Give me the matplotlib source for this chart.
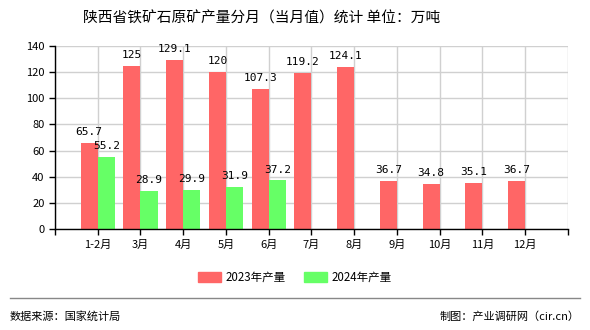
import numpy as np
import matplotlib.pyplot as plt
from matplotlib.patches import Patch
from matplotlib.lines import Line2D

plt.rcParams['font.family'] = ['Noto Sans CJK SC', 'DejaVu Sans']

# === Data ===
months = ["1-2月", "3月", "4月", "5月", "6月", "7月", "8月", "9月", "10月", "11月", "12月"]
output_2023 = [65.7, 125, 129.1, 120, 107.3, 119.2, 124.1, 36.7, 34.8, 35.1, 36.7]
output_2024 = [55.2, 28.9, 29.9, 31.9, 37.2]

RED = '#ff6666'
GREEN = '#66ff66'
BAR_W = 0.4

fig = plt.figure(figsize=(5.9, 3.3), dpi=100)
ax = fig.add_axes([0.0932, 0.306, 0.8695, 0.5546])

x = np.arange(len(months))
x24 = np.arange(len(output_2024))
ax.bar(x - BAR_W / 2, output_2023, BAR_W, color=RED, zorder=2)
ax.bar(x24 + BAR_W / 2, output_2024, BAR_W, color=GREEN, zorder=2)

def fmt(v):
    return f"{v:g}"

for xi, v in zip(x, output_2023):
    ax.text(xi - BAR_W / 2, v + 4.5, fmt(v), ha='center', va='bottom',
            fontsize=8, family='DejaVu Sans Mono')
for xi, v in zip(x24, output_2024):
    ax.text(xi + BAR_W / 2, v + 4.5, fmt(v), ha='center', va='bottom',
            fontsize=8, family='DejaVu Sans Mono')

ax.set_xlim(-1, len(months))
ax.set_ylim(0, 140)
ax.set_yticks(range(0, 141, 20))
ax.set_xticks(range(-1, len(months) + 1))
ax.set_xticklabels([''] + months + [''])
ax.tick_params(axis='both', labelsize=8, length=4, width=1, colors='black')
ax.grid(True, color='#d0d0d0', linewidth=1, zorder=0)
ax.set_axisbelow(True)
for s in ['top', 'right']:
    ax.spines[s].set_visible(False)
ax.spines['left'].set_linewidth(1)
ax.spines['bottom'].set_linewidth(1)

fig.text(0.443, 0.945, "陕西省铁矿石原矿产量分月（当月值）统计 单位：万吨",
         ha='center', va='center', fontsize=10.6)

handles = [Patch(color=RED), Patch(color=GREEN)]
fig.legend(handles, ["2023年产量", "2024年产量"], loc='center', bbox_to_anchor=(0.5, 0.16),
           ncol=2, frameon=False, fontsize=8.3, handlelength=2.0, handleheight=0.9,
           columnspacing=1.6, handletextpad=0.4)

fig.add_artist(Line2D([0.017, 0.983], [0.097, 0.097], color='#888888', linewidth=1))
fig.text(0.017, 0.04, "数据来源：国家统计局", ha='left', va='center', fontsize=8)
fig.text(0.983, 0.04, "制图：产业调研网（cir.cn）", ha='right', va='center', fontsize=8)

fig.savefig("out.png", dpi=100)
